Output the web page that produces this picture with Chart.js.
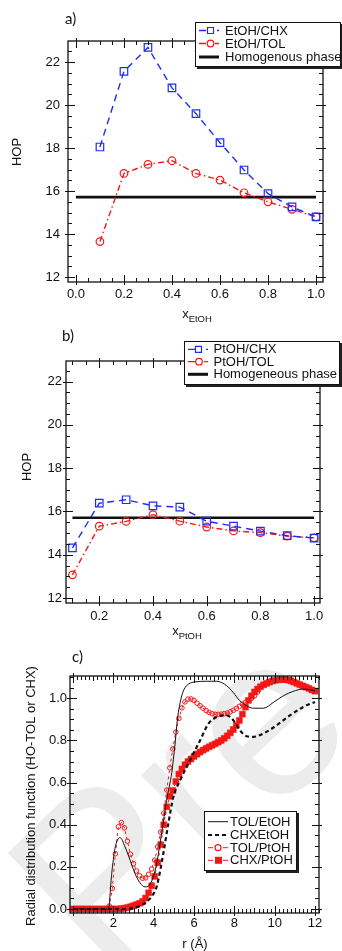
<!DOCTYPE html>
<html>
<head>
<meta charset="utf-8">
<title>HOP and radial distribution functions</title>
<script src="https://cdn.jsdelivr.net/npm/chart.js@4.4.1/dist/chart.umd.min.js"></script>
<style>
    html, body { margin: 0; padding: 0; background: #fff; }
    body { position: relative; width: 342px; height: 951px; overflow: hidden; }
    .mark { position: absolute; left: 0; top: 0; }
    .panel { position: absolute; left: 0; width: 342px; }
</style>
</head>
<body>
<svg class="mark" width="342" height="951">
    <text x="104" y="980" transform="rotate(-44 104 980)" font-family="Liberation Sans, Arial, sans-serif" font-size="230" fill="#ececec">Pre</text>
</svg>
<div class="panel" style="top:0;height:325px"><canvas id="chartA"></canvas></div>
<div class="panel" style="top:325px;height:320px"><canvas id="chartB"></canvas></div>
<div class="panel" style="top:645px;height:306px"><canvas id="chartC"></canvas></div>
<script>
// a) HOP vs EtOH mole fraction
const xEtOH = [0.1, 0.2, 0.3, 0.4, 0.5, 0.6, 0.7, 0.8, 0.9, 1.0];
const hopEtohChx = [18.05, 21.57, 22.68, 20.8, 19.6, 18.25, 16.98, 15.88, 15.26, 14.8];
const hopEtohTol = [13.65, 16.82, 17.24, 17.41, 16.82, 16.51, 15.92, 15.5, 15.15, 14.8];
const homogEtohX = [0.0, 1.0];
const homogEtohY = [15.72, 15.72];
const xTicksA = [0.0, 0.2, 0.4, 0.6, 0.8, 1.0];
const yTicksA = [12, 14, 16, 18, 20, 22];

// b) HOP vs PtOH mole fraction
const xPtOH = [0.1, 0.2, 0.3, 0.4, 0.5, 0.6, 0.7, 0.8, 0.9, 1.0];
const hopPtohChx = [14.32, 16.38, 16.54, 16.26, 16.2, 15.55, 15.32, 15.09, 14.88, 14.77];
const hopPtohTol = [13.07, 15.32, 15.54, 15.85, 15.55, 15.28, 15.1, 15.02, 14.86, 14.78];
const homogPtohX = [0.1, 1.0];
const homogPtohY = [15.71, 15.71];
const xTicksB = [0.2, 0.4, 0.6, 0.8, 1.0];
const yTicksB = [12, 14, 16, 18, 20, 22];

// c) radial distribution functions
const rTolEtoh = [0, 1.75, 1.92, 2.08, 2.33, 2.58, 2.83, 3.07, 3.32, 3.57, 3.79, 3.95, 4.15, 4.31, 4.48, 4.64, 4.9, 5.06, 5.18, 5.35, 5.51, 5.72, 6.05, 6.63, 7.13, 7.62, 7.95, 8.28, 8.61, 8.94, 9.44, 9.93, 10.43, 10.92, 11.42, 12.0];
const gTolEtoh = [0, 0, 0.169, 0.287, 0.339, 0.295, 0.232, 0.169, 0.124, 0.105, 0.113, 0.145, 0.216, 0.31, 0.413, 0.515, 0.649, 0.783, 0.902, 0.996, 1.043, 1.067, 1.078, 1.081, 1.081, 1.06, 1.027, 0.988, 0.965, 0.953, 0.953, 0.98, 1.012, 1.033, 1.044, 1.036];
const rChxEtoh = [0, 2.6, 3.2, 3.6, 3.9, 4.15, 4.48, 4.73, 4.98, 5.31, 5.8, 6.3, 6.71, 7.13, 7.62, 7.95, 8.28, 8.61, 8.94, 9.44, 10.1, 10.76, 11.42, 12.0];
const gChxEtoh = [0, 0, 0.01, 0.03, 0.06, 0.107, 0.265, 0.407, 0.533, 0.611, 0.706, 0.8, 0.879, 0.911, 0.919, 0.896, 0.848, 0.82, 0.817, 0.833, 0.872, 0.919, 0.959, 0.983];
const rPtoh = [0, 0.15, 0.3, 0.45, 0.6, 0.75, 0.9, 1.05, 1.2, 1.35, 1.5, 1.65, 1.8, 1.95, 2.1, 2.25, 2.4, 2.55, 2.7, 2.85,
    3.0, 3.15, 3.3, 3.45, 3.6, 3.75, 3.9, 4.05, 4.2, 4.35, 4.5, 4.65, 4.8, 4.95, 5.1, 5.25, 5.4, 5.55, 5.7, 5.85,
    6.0, 6.15, 6.3, 6.45, 6.6, 6.75, 6.9, 7.05, 7.2, 7.35, 7.5, 7.65, 7.8, 7.95, 8.1, 8.25, 8.4, 8.55, 8.7, 8.85,
    9.0, 9.15, 9.3, 9.45, 9.6, 9.75, 9.9, 10.05, 10.2, 10.35, 10.5, 10.65, 10.8, 10.95, 11.1, 11.25, 11.4, 11.55, 11.7, 11.85, 12.0];
const gTolPtoh = [0, 0, 0, 0, 0, 0, 0, 0, 0, 0, 0, 0, 0.014, 0.098, 0.262, 0.39, 0.41, 0.385, 0.322, 0.26,
    0.215, 0.18, 0.158, 0.146, 0.148, 0.165, 0.19, 0.232, 0.295, 0.365, 0.455, 0.565, 0.67, 0.76, 0.84, 0.905, 0.955, 0.983, 0.996, 0.997,
    0.99, 0.977, 0.965, 0.953, 0.942, 0.933, 0.927, 0.924, 0.924, 0.925, 0.927, 0.93, 0.936, 0.943, 0.952, 0.962, 0.972, 0.981, 0.99, 1.0,
    1.012, 1.03, 1.055, 1.064, 1.071, 1.077, 1.082, 1.086, 1.088, 1.089, 1.089, 1.087, 1.083, 1.077, 1.071, 1.065, 1.059, 1.053, 1.047, 1.04, 1.034];
const gChxPtoh = [0, 0, 0, 0, 0, 0, 0, 0, 0, 0, 0, 0, 0, 0, 0, 0, 0.002, 0.004, 0.007, 0.011,
    0.016, 0.021, 0.027, 0.036, 0.052, 0.077, 0.11, 0.155, 0.22, 0.305, 0.4, 0.485, 0.535, 0.562, 0.605, 0.64, 0.665, 0.685, 0.7, 0.712,
    0.724, 0.735, 0.745, 0.754, 0.762, 0.77, 0.777, 0.784, 0.792, 0.8, 0.81, 0.822, 0.836, 0.852, 0.872, 0.895, 0.925, 0.958, 0.99, 1.012,
    1.03, 1.044, 1.055, 1.064, 1.071, 1.077, 1.082, 1.086, 1.088, 1.089, 1.089, 1.087, 1.083, 1.077, 1.071, 1.065, 1.059, 1.053, 1.047, 1.04, 1.034];
const xTicksC = [2, 4, 6, 8, 10, 12];
const yTicksC = [0.0, 0.2, 0.4, 0.6, 0.8, 1.0];

const blue = '#1f2cf5';
const red = '#f51616';
const ink = '#111';
const sans = "'Liberation Sans', Arial, sans-serif";

Chart.defaults.font.family = sans;
Chart.defaults.font.size = 13;
Chart.defaults.color = ink;
Chart.defaults.animation = false;

const pts = (xs, ys) => xs.map((x, i) => ({ x: x, y: ys[i] }));

function drawTicks(ctx, area, scale, step, major, mid, horizontal) {
    const first = Math.ceil(scale.min / step - 1e-6);
    const last = Math.floor(scale.max / step + 1e-6);
    const on = (v, s) => s && Math.abs(v / s - Math.round(v / s)) < 1e-6;
    ctx.beginPath();
    for (let k = first; k <= last; k++) {
        const v = k * step;
        let len = 4, out = 0;
        if (on(v, major)) { len = 7; out = 3; } else if (on(v, mid)) { len = 5; }
        const p = Math.round(scale.getPixelForValue(v)) + 0.5;
        if (horizontal) {
            ctx.moveTo(p, area.bottom + out); ctx.lineTo(p, area.bottom - len);
            ctx.moveTo(p, area.top - out); ctx.lineTo(p, area.top + len);
        } else {
            ctx.moveTo(area.left - out, p); ctx.lineTo(area.left + len, p);
            ctx.moveTo(area.right + out, p); ctx.lineTo(area.right - len, p);
        }
    }
    ctx.stroke();
}

function drawMarker(ctx, row) {
    const m = row.marker;
    ctx.setLineDash([]);
    ctx.lineWidth = 1.2;
    ctx.strokeStyle = row.color;
    ctx.fillStyle = row.color;
    ctx.beginPath();
    if (m.type === 'circle') {
        ctx.arc(m.x, row.y, m.r, 0, Math.PI * 2);
    } else {
        ctx.rect(m.x - m.r, row.y - m.r, m.r * 2, m.r * 2);
    }
    if (m.fill) ctx.fill(); else { ctx.fillStyle = '#fff'; ctx.fill(); ctx.stroke(); }
}

const decoPlugin = {
    id: 'deco',
    afterDatasetsDraw(chart, args, o) {
        const { ctx, chartArea: area, scales } = chart;
        ctx.save();
        ctx.strokeStyle = ink;
        ctx.lineWidth = 1.3;
        ctx.strokeRect(area.left, area.top, area.right - area.left, area.bottom - area.top);
        ctx.lineWidth = 1;
        drawTicks(ctx, area, scales.x, o.xStep, o.xMajor, o.xMid, true);
        drawTicks(ctx, area, scales.y, o.yStep, o.yMajor, 0, false);
        ctx.restore();
    },
    afterDraw(chart, args, o) {
        const ctx = chart.ctx;
        ctx.save();
        ctx.fillStyle = ink;

        // panel tag
        ctx.font = "15px Lato, 'Open Sans', sans-serif";
        ctx.textAlign = 'left';
        ctx.textBaseline = 'alphabetic';
        ctx.fillText(o.tag.text, o.tag.x, o.tag.y);

        // x title, with subscript
        ctx.font = '13px ' + sans;
        const w1 = ctx.measureText(o.xTitle.main).width;
        ctx.font = '9.5px ' + sans;
        const w2 = o.xTitle.sub ? ctx.measureText(o.xTitle.sub).width : 0;
        const x0 = o.xTitle.cx - (w1 + w2) / 2;
        ctx.font = '13px ' + sans;
        ctx.fillText(o.xTitle.main, x0, o.xTitle.y);
        if (o.xTitle.sub) {
            ctx.font = '9.5px ' + sans;
            ctx.fillText(o.xTitle.sub, x0 + w1, o.xTitle.y + 4);
        }

        // y title
        ctx.save();
        ctx.font = '13px ' + sans;
        ctx.translate(o.yTitle.cx, o.yTitle.cy);
        ctx.rotate(-Math.PI / 2);
        ctx.textAlign = 'center';
        ctx.textBaseline = 'middle';
        ctx.fillText(o.yTitle.text, 0, 0);
        ctx.restore();

        // legend box
        const L = o.legend;
        const [bx, by, bw, bh] = L.box;
        ctx.fillStyle = '#222';
        ctx.fillRect(bx + 2, by + 2, bw, bh);
        ctx.fillStyle = '#fff';
        ctx.fillRect(bx, by, bw, bh);
        ctx.strokeStyle = ink;
        ctx.lineWidth = 1;
        ctx.strokeRect(bx + 0.5, by + 0.5, bw - 1, bh - 1);
        L.rows.forEach((row) => {
            ctx.strokeStyle = row.color;
            ctx.lineWidth = row.width;
            ctx.setLineDash(row.dash || []);
            ctx.beginPath();
            row.segs.forEach((s) => { ctx.moveTo(s[0], row.y); ctx.lineTo(s[1], row.y); });
            ctx.stroke();
            if (row.marker) drawMarker(ctx, row);
            ctx.setLineDash([]);
            ctx.fillStyle = ink;
            ctx.font = '13px ' + sans;
            ctx.textAlign = 'left';
            ctx.textBaseline = 'middle';
            ctx.fillText(row.text, L.textX, row.y + 0.5);
        });
        ctx.restore();
    }
};
Chart.register(decoPlugin);

function xAxis(min, max, tickVals, digits, pad, space) {
    return {
        type: 'linear', min: min, max: max,
        grid: { display: false, drawTicks: false },
        border: { display: false },
        ticks: { padding: pad, autoSkip: false, maxRotation: 0, callback: (v) => Number(v).toFixed(digits) },
        afterBuildTicks: (s) => { s.ticks = tickVals.map((v) => ({ value: v })); },
        afterFit: (s) => { s.height = space; }
    };
}

function yAxis(min, max, tickVals, digits, pad, space) {
    return {
        type: 'linear', min: min, max: max,
        grid: { display: false, drawTicks: false },
        border: { display: false },
        ticks: { padding: pad, autoSkip: false, callback: (v) => Number(v).toFixed(digits) },
        afterBuildTicks: (s) => { s.ticks = tickVals.map((v) => ({ value: v })); },
        afterFit: (s) => { s.width = space; }
    };
}

function baseOptions(padding, scales, deco) {
    return {
        responsive: true,
        maintainAspectRatio: false,
        events: [],
        layout: { padding: padding },
        scales: scales,
        plugins: { legend: { display: false }, tooltip: { enabled: false }, deco: deco }
    };
}

const chxStyle = { showLine: true, borderColor: blue, borderWidth: 1.4, borderDash: [7, 5], pointStyle: 'rect', pointRadius: 5.3, pointBorderColor: blue, pointBackgroundColor: 'rgba(0,0,0,0)', pointBorderWidth: 1.2 };
const tolStyle = { showLine: true, borderColor: red, borderWidth: 1.4, borderDash: [6, 3, 1.5, 3], pointStyle: 'circle', pointRadius: 3.8, pointBorderColor: red, pointBackgroundColor: 'rgba(0,0,0,0)', pointBorderWidth: 1.2 };
const homogStyle = { showLine: true, borderColor: ink, borderWidth: 2.6, pointRadius: 0 };

new Chart(document.getElementById('chartA'), {
    type: 'scatter',
    data: {
        datasets: [
            Object.assign({ label: 'EtOH/CHX', data: pts(xEtOH, hopEtohChx) }, chxStyle),
            Object.assign({ label: 'EtOH/TOL', data: pts(xEtOH, hopEtohTol) }, tolStyle),
            Object.assign({ label: 'Homogenous phase', data: pts(homogEtohX, homogEtohY) }, homogStyle)
        ]
    },
    options: baseOptions({ top: 41, right: 19, left: 0, bottom: 0 }, {
        x: xAxis(-0.033, 1.029, xTicksA, 1, 5, 43),
        y: yAxis(11.77, 22.98, yTicksA, 0, 8, 68)
    }, {
        xStep: 0.05, xMajor: 0.2, yStep: 0.5, yMajor: 2,
        tag: { text: 'a)', x: 65, y: 24 },
        xTitle: { main: 'x', sub: 'EtOH', cx: 197, y: 318 },
        yTitle: { text: 'HOP', cx: 17.5, cy: 152 },
        legend: {
            box: [195, 22, 146, 45], textX: 225,
            rows: [
                { text: 'EtOH/CHX', y: 30.5, color: blue, width: 1.3, segs: [[199, 206], [217, 219]], marker: { type: 'rect', x: 210.5, r: 3 } },
                { text: 'EtOH/TOL', y: 43.5, color: red, width: 1.3, segs: [[199, 206], [215, 219]], marker: { type: 'circle', x: 210.5, r: 3.3 } },
                { text: 'Homogenous phase', y: 57, color: ink, width: 3, segs: [[199, 219]] }
            ]
        }
    })
});

new Chart(document.getElementById('chartB'), {
    type: 'scatter',
    data: {
        datasets: [
            Object.assign({ label: 'PtOH/CHX', data: pts(xPtOH, hopPtohChx) }, chxStyle),
            Object.assign({ label: 'PtOH/TOL', data: pts(xPtOH, hopPtohTol) }, tolStyle),
            Object.assign({ label: 'Homogeneous phase', data: pts(homogPtohX, homogPtohY) }, homogStyle)
        ]
    },
    options: baseOptions({ top: 36, right: 22, left: 0, bottom: 0 }, {
        x: xAxis(0.076, 1.022, xTicksB, 1, 6, 42),
        y: yAxis(11.77, 22.95, yTicksB, 0, 4, 66)
    }, {
        xStep: 0.05, xMajor: 0.2, yStep: 0.5, yMajor: 2,
        tag: { text: 'b)', x: 62, y: 16 },
        xTitle: { main: 'x', sub: 'PtOH', cx: 187, y: 310 },
        yTitle: { text: 'HOP', cx: 27, cy: 142 },
        legend: {
            box: [184, 16, 156, 44], textX: 213.5,
            rows: [
                { text: 'PtOH/CHX', y: 24.3, color: blue, width: 1.3, segs: [[188, 195], [206, 208]], marker: { type: 'rect', x: 198.5, r: 3 } },
                { text: 'PtOH/TOL', y: 36.7, color: red, width: 1.3, segs: [[188, 195], [204, 208]], marker: { type: 'circle', x: 199, r: 3.3 } },
                { text: 'Homogeneous phase', y: 49.3, color: ink, width: 3, segs: [[188, 208]] }
            ]
        }
    })
});

new Chart(document.getElementById('chartC'), {
    type: 'scatter',
    data: {
        datasets: [
            { label: 'TOL/EtOH', data: pts(rTolEtoh, gTolEtoh), showLine: true, borderColor: ink, borderWidth: 1, pointRadius: 0, cubicInterpolationMode: 'monotone', order: 0 },
            { label: 'CHXEtOH', data: pts(rChxEtoh, gChxEtoh), showLine: true, borderColor: ink, borderWidth: 2.2, borderDash: [4, 3], pointRadius: 0, cubicInterpolationMode: 'monotone', order: 1 },
            { label: 'TOL/PtOH', data: pts(rPtoh, gTolPtoh), showLine: true, borderColor: red, borderWidth: 1, borderDash: [3, 3], pointStyle: 'circle', pointRadius: 2.3, pointBorderColor: red, pointBackgroundColor: 'rgba(0,0,0,0)', pointBorderWidth: 1, order: 3 },
            { label: 'CHX/PtOH', data: pts(rPtoh, gChxPtoh), showLine: true, borderColor: red, borderWidth: 1, borderDash: [3, 3], pointStyle: 'rect', pointRadius: 4.2, pointBorderColor: red, pointBackgroundColor: red, pointBorderWidth: 0.5, order: 2 }
        ]
    },
    options: baseOptions({ top: 31, right: 23, left: 0, bottom: 0 }, {
        x: xAxis(-0.15, 12.2, xTicksC, 0, 3, 38),
        y: yAxis(-0.019, 1.106, yTicksC, 1, 3, 70)
    }, {
        xStep: 0.2, xMajor: 2, xMid: 1, yStep: 0.05, yMajor: 0.2,
        tag: { text: 'c)', x: 72, y: 17 },
        xTitle: { main: 'r (Å)', sub: '', cx: 195, y: 303 },
        yTitle: { text: 'Radial distribution function (HO-TOL or CHX)', cx: 31, cy: 151 },
        legend: {
            box: [204, 166, 93, 60], textX: 230,
            rows: [
                { text: 'TOL/EtOH', y: 176.7, color: ink, width: 1, segs: [[208, 228]] },
                { text: 'CHXEtOH', y: 190, color: ink, width: 2.2, dash: [4, 3], segs: [[208, 228]] },
                { text: 'TOL/PtOH', y: 202.7, color: red, width: 1, segs: [[208, 213], [223, 228]], marker: { type: 'circle', x: 218, r: 3 } },
                { text: 'CHX/PtOH', y: 215.3, color: red, width: 1, segs: [[208, 213], [223, 228]], marker: { type: 'rect', x: 218.5, r: 3.5, fill: true } }
            ]
        }
    })
});
</script>
</body>
</html>
